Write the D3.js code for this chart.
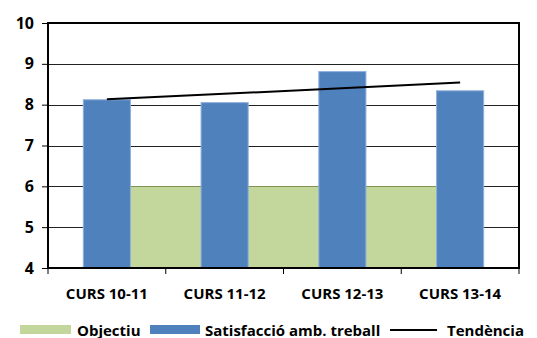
<!DOCTYPE html>
<html>
<head>
<meta charset="utf-8">
<script src="https://cdn.jsdelivr.net/npm/d3@7"></script>
<style>
  html, body { margin: 0; padding: 0; background: #fff; }
  svg { display: block; font-family: "Open Sans", "Liberation Sans", sans-serif; font-weight: bold; }
</style>
</head>
<body>
<svg id="chart" width="537" height="338"></svg>
<script>
// Course years
const categories = ["CURS 10-11", "CURS 11-12", "CURS 12-13", "CURS 13-14"];
// Job satisfaction score per course
const satisfaccio = [8.12, 8.05, 8.81, 8.34];
// Target value per course
const objectiu = [6, 6, 6, 6];
// Trend line at the first and last course
const tendencia = [8.13, 8.54];
// Y axis ticks
const yTicks = [4, 5, 6, 7, 8, 9, 10];

const svg = d3.select("#chart");
const margin = { left: 48, right: 18, top: 23, bottom: 70 };
const W = 537, H = 338;

const x = d3.scaleBand().domain(categories).range([margin.left, W - margin.right]).paddingInner(0).paddingOuter(0);
const y = d3.scaleLinear().domain([4, 10]).range([H - margin.bottom, margin.top]);
const cx = c => x(c) + x.bandwidth() / 2;

// Gridlines
svg.append("g").selectAll("line").data(yTicks.filter(t => t > 4 && t < 10)).join("line")
  .attr("x1", margin.left).attr("x2", W - margin.right)
  .attr("y1", d => Math.round(y(d)) + 0.5).attr("y2", d => Math.round(y(d)) + 0.5)
  .attr("stroke", "#222").attr("stroke-width", 1);

// Target area, from first to last course centre
const area = d3.area()
  .x((d, i) => cx(categories[i]))
  .y0(y(4)).y1(d => y(d));
svg.append("path").datum(objectiu).attr("d", area)
  .attr("fill", "#C3D69B");
svg.append("path").datum(objectiu)
  .attr("d", d3.line().x((d, i) => cx(categories[i])).y(d => Math.round(y(d)) + 0.5))
  .attr("fill", "none").attr("stroke", "#7E9453").attr("stroke-width", 1);

// Bars
const bw = x.bandwidth() * 0.4;
svg.append("g").selectAll("rect").data(satisfaccio).join("rect")
  .attr("x", (d, i) => cx(categories[i]) - bw / 2)
  .attr("width", bw)
  .attr("y", d => y(d))
  .attr("height", d => y(4) - y(d))
  .attr("fill", "#4F81BD")
  .attr("stroke", "#8EB0DC").attr("stroke-width", 1);

// Trend line
svg.append("line")
  .attr("x1", cx(categories[0])).attr("y1", y(tendencia[0]))
  .attr("x2", cx(categories[categories.length - 1])).attr("y2", y(tendencia[1]))
  .attr("stroke", "#000").attr("stroke-width", 2);

// Frame
svg.append("rect")
  .attr("x", margin.left).attr("y", y(10))
  .attr("width", W - margin.right - margin.left).attr("height", y(4) - y(10))
  .attr("fill", "none").attr("stroke", "#000").attr("stroke-width", 2);

// Y axis
const yAxis = d3.axisLeft(y).tickValues(yTicks).tickSize(6).tickPadding(8).tickFormat(d3.format("d"));
const gy = svg.append("g").attr("transform", `translate(${margin.left},0)`).call(yAxis);
gy.select(".domain").remove();
gy.selectAll(".tick line").attr("stroke", "#000");
gy.selectAll(".tick text").attr("font-size", 16).attr("font-weight", "bold").attr("fill", "#000")
  .attr("font-family", "'Open Sans', sans-serif");

// X axis: ticks at category boundaries
const bounds = categories.map(c => x(c)).concat([W - margin.right]);
svg.append("g").selectAll("line").data(bounds).join("line")
  .attr("x1", d => d).attr("x2", d => d)
  .attr("y1", y(4)).attr("y2", y(4) + 6)
  .attr("stroke", "#000").attr("stroke-width", 1);
svg.append("g").selectAll("text").data(categories).join("text")
  .attr("x", d => cx(d)).attr("y", y(4) + 31)
  .attr("text-anchor", "middle").attr("font-size", 15).attr("fill", "#000")
  .text(d => d);

// Legend
const lg = svg.append("g").attr("font-size", 15);
const ly = 330;
lg.append("rect").attr("x", 20).attr("y", ly - 5).attr("width", 51).attr("height", 9).attr("fill", "#C3D69B");
lg.append("text").attr("x", 77).attr("y", ly + 5.5).text("Objectiu");
lg.append("rect").attr("x", 150).attr("y", ly - 5).attr("width", 50).attr("height", 9).attr("fill", "#4F81BD");
lg.append("text").attr("x", 205).attr("y", ly + 5.5).text("Satisfacció amb. treball");
lg.append("line").attr("x1", 390).attr("x2", 437).attr("y1", ly).attr("y2", ly).attr("stroke", "#000").attr("stroke-width", 2);
lg.append("text").attr("x", 447).attr("y", ly + 5.5).text("Tendència");
</script>
</body>
</html>
